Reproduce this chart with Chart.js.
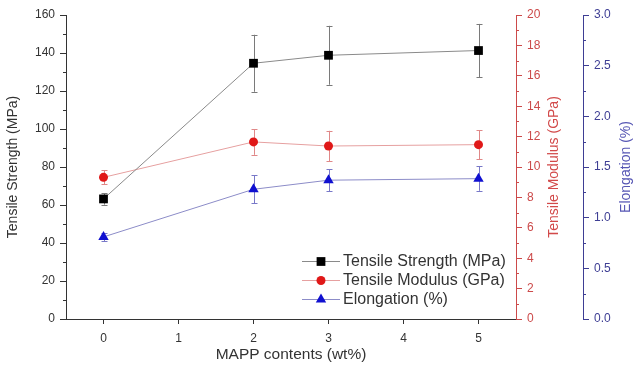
<!DOCTYPE html>
<html>
<head>
<meta charset="utf-8">
<script src="https://cdn.jsdelivr.net/npm/chart.js@4/dist/chart.umd.min.js"></script>
<style>
html,body{margin:0;padding:0;background:#fff;}
#wrap{width:634px;height:374px;position:relative;}
</style>
</head>
<body>
<div id="wrap"><canvas id="c" width="634" height="374"></canvas></div>
<script>
// ---- data ----
const contents = [0, 2, 3, 5];
const strength = [63.2, 134.6, 138.8, 141.3];
const strengthErr = [3, 15, 15.5, 14];
const modulus = [9.32, 11.65, 11.38, 11.47];
const modulusErr = [0.45, 0.85, 1.0, 0.95];
const elongation = [0.81, 1.28, 1.37, 1.385];
const elongationErr = [0.04, 0.14, 0.11, 0.12];

const xTicks = [0, 1, 2, 3, 4, 5];
const strengthTicks = [0, 20, 40, 60, 80, 100, 120, 140, 160];
const modulusTicks = [0, 2, 4, 6, 8, 10, 12, 14, 16, 18, 20];
const elongTicks = [0, 0.5, 1.0, 1.5, 2.0, 2.5, 3.0];

const labels = ['Tensile Strength (MPa)', 'Tensile Modulus (GPa)', 'Elongation (%)'];
const xTitle = 'MAPP contents (wt%)';

const RED = '#cc4a4a';
const BLUE = '#3e3e94';
const FONT = "'Liberation Sans', Arial, sans-serif";

function pts(ys){ return contents.map((x,i)=>({x:x, y:ys[i]})); }

const errSets = [strengthErr, modulusErr, elongationErr];
const errColors = ['#7a7a7a', '#e08888', '#7878c8'];

const errorBarPlugin = {
  id: 'errbars',
  beforeDatasetsDraw(chart){
    const ctx = chart.ctx;
    chart.data.datasets.forEach((ds, di) => {
      const ys = chart.scales[ds.yAxisID];
      const xs = chart.scales.x;
      const errs = errSets[di];
      ctx.save();
      ctx.strokeStyle = errColors[di];
      ctx.lineWidth = 1;
      ds.data.forEach((p, i) => {
        const px = Math.round(xs.getPixelForValue(p.x)) + 0.5;
        const y1 = ys.getPixelForValue(p.y + errs[i]);
        const y2 = ys.getPixelForValue(p.y - errs[i]);
        ctx.beginPath();
        ctx.moveTo(px, y1); ctx.lineTo(px, y2);
        ctx.moveTo(px - 3, Math.round(y1)+0.5); ctx.lineTo(px + 3, Math.round(y1)+0.5);
        ctx.moveTo(px - 3, Math.round(y2)+0.5); ctx.lineTo(px + 3, Math.round(y2)+0.5);
        ctx.stroke();
      });
      ctx.restore();
    });
  }
};

function drawMarker(ctx, style, x, y, r, color){
  ctx.fillStyle = color;
  ctx.beginPath();
  if (style === 'rect') {
    const s = r * Math.SQRT1_2;
    ctx.rect(x - s, y - s, 2*s, 2*s);
  } else if (style === 'circle') {
    ctx.arc(x, y, r, 0, Math.PI*2);
  } else {
    const h = r;
    ctx.moveTo(x, y - h);
    ctx.lineTo(x + h*Math.sin(Math.PI/3), y + h*0.5);
    ctx.lineTo(x - h*Math.sin(Math.PI/3), y + h*0.5);
    ctx.closePath();
  }
  ctx.fill();
}

const extrasPlugin = {
  id: 'extras',
  afterDraw(chart){
    const ctx = chart.ctx;
    // minor ticks
    const minor = [
      {id:'y', step:10, max:160, color:'#333', dir:-1},
      {id:'y1', step:1, max:20, color:RED, dir:1},
      {id:'y2', step:0.25, max:3, color:BLUE, dir:1}
    ];
    ctx.save();
    ctx.lineWidth = 1;
    minor.forEach(m => {
      const sc = chart.scales[m.id];
      const x0 = m.dir < 0 ? sc.right : sc.left;
      ctx.strokeStyle = m.color;
      ctx.beginPath();
      for (let v = m.step; v < m.max; v += 2*m.step) {
        const py = Math.round(sc.getPixelForValue(v)) + 0.5;
        ctx.moveTo(x0, py); ctx.lineTo(x0 + m.dir*3, py);
      }
      ctx.stroke();
    });
    ctx.restore();

    // right axis titles (reading bottom to top)
    const ca = chart.chartArea;
    const midY = (ca.top + ca.bottom) / 2;
    const titles = [
      {id:'y1', text:'Tensile Modulus (GPa)', color:'#d24a4a', off:38},
      {id:'y2', text:'Elongation (%)', color:'#5656b4', off:43}
    ];
    titles.forEach(t => {
      const sc = chart.scales[t.id];
      ctx.save();
      ctx.translate(sc.left + t.off, midY);
      ctx.rotate(-Math.PI/2);
      ctx.font = '14px ' + FONT;
      ctx.fillStyle = t.color;
      ctx.textAlign = 'center';
      ctx.textBaseline = 'middle';
      ctx.fillText(t.text, 0, 0);
      ctx.restore();
    });

    // legend
    const lx = 302, lw = 38, tx = 343;
    const rows = [261, 280, 299];
    chart.data.datasets.forEach((ds, i) => {
      const y = rows[i];
      ctx.save();
      ctx.strokeStyle = ds.borderColor;
      ctx.lineWidth = 1;
      ctx.beginPath();
      ctx.moveTo(lx, y + 0.5); ctx.lineTo(lx + lw, y + 0.5);
      ctx.stroke();
      drawMarker(ctx, ds.pointStyle, lx + lw/2, y + 0.5, ds.pointRadius, ds.pointBackgroundColor);
      ctx.font = '16px ' + FONT;
      ctx.fillStyle = '#333';
      ctx.textAlign = 'left';
      ctx.textBaseline = 'middle';
      ctx.fillText(ds.label, tx, y + 1);
      ctx.restore();
    });
  }
};

const ctxEl = document.getElementById('c');
new Chart(ctxEl, {
  type: 'line',
  data: {
    datasets: [
      {label: labels[0], data: pts(strength), yAxisID: 'y', borderColor: '#8a8a8a', borderWidth: 1,
       pointStyle: 'rect', pointRadius: 6.2, pointBackgroundColor: '#000', pointBorderWidth: 0, pointBorderColor: '#000'},
      {label: labels[1], data: pts(modulus), yAxisID: 'y1', borderColor: '#e6a0a0', borderWidth: 1,
       pointStyle: 'circle', pointRadius: 4.5, pointBackgroundColor: '#e01818', pointBorderWidth: 0, pointBorderColor: '#e01818'},
      {label: labels[2], data: pts(elongation), yAxisID: 'y2', borderColor: '#8c8cc8', borderWidth: 1,
       pointStyle: 'triangle', pointRadius: 6, pointBackgroundColor: '#1010d0', pointBorderWidth: 0, pointBorderColor: '#1010d0'}
    ]
  },
  options: {
    responsive: false,
    animation: false,
    layout: { padding: { top: 15, left: 0, right: 0, bottom: 0 } },
    plugins: { legend: { display: false }, tooltip: { enabled: false } },
    elements: { line: { tension: 0 } },
    scales: {
      x: {
        type: 'linear', min: -0.5, max: 5.5,
        afterFit: s => { s.height = 55; },
        afterBuildTicks: s => { s.ticks = xTicks.map(v => ({value: v})); },
        grid: { drawOnChartArea: false, tickLength: 5, color: '#333' },
        border: { display: true, color: '#333', width: 1 },
        ticks: { font: { family: FONT, size: 12 }, color: '#333', padding: 7, maxRotation: 0 },
        title: { display: true, text: xTitle, font: { family: FONT, size: 15.5 }, color: '#333', padding: { top: 4, bottom: 10 } }
      },
      y: {
        type: 'linear', position: 'left', min: 0, max: 160,
        afterFit: s => { s.width = 66; },
        afterBuildTicks: s => { s.ticks = strengthTicks.map(v => ({value: v})); },
        grid: { drawOnChartArea: false, tickLength: 6, color: '#333' },
        border: { display: true, color: '#333', width: 1 },
        ticks: { font: { family: FONT, size: 12 }, color: '#333', padding: 5 },
        title: { display: true, text: labels[0], font: { family: FONT, size: 14 }, color: '#333', padding: { top: 5, bottom: 0 } }
      },
      y1: {
        type: 'linear', position: 'right', min: 0, max: 20,
        afterFit: s => { s.width = 67; },
        afterBuildTicks: s => { s.ticks = modulusTicks.map(v => ({value: v})); },
        grid: { drawOnChartArea: false, tickLength: 6, color: RED },
        border: { display: true, color: RED, width: 1 },
        ticks: { font: { family: FONT, size: 12 }, color: RED, padding: 5 }
      },
      y2: {
        type: 'linear', position: 'right', min: 0, max: 3,
        afterFit: s => { s.width = 51; },
        afterBuildTicks: s => { s.ticks = elongTicks.map(v => ({value: v})); },
        grid: { drawOnChartArea: false, tickLength: 6, color: BLUE },
        border: { display: true, color: BLUE, width: 1 },
        ticks: { font: { family: FONT, size: 12 }, color: BLUE, padding: 5, callback: v => Number(v).toFixed(1) }
      }
    }
  },
  plugins: [errorBarPlugin, extrasPlugin]
});
</script>
</body>
</html>
